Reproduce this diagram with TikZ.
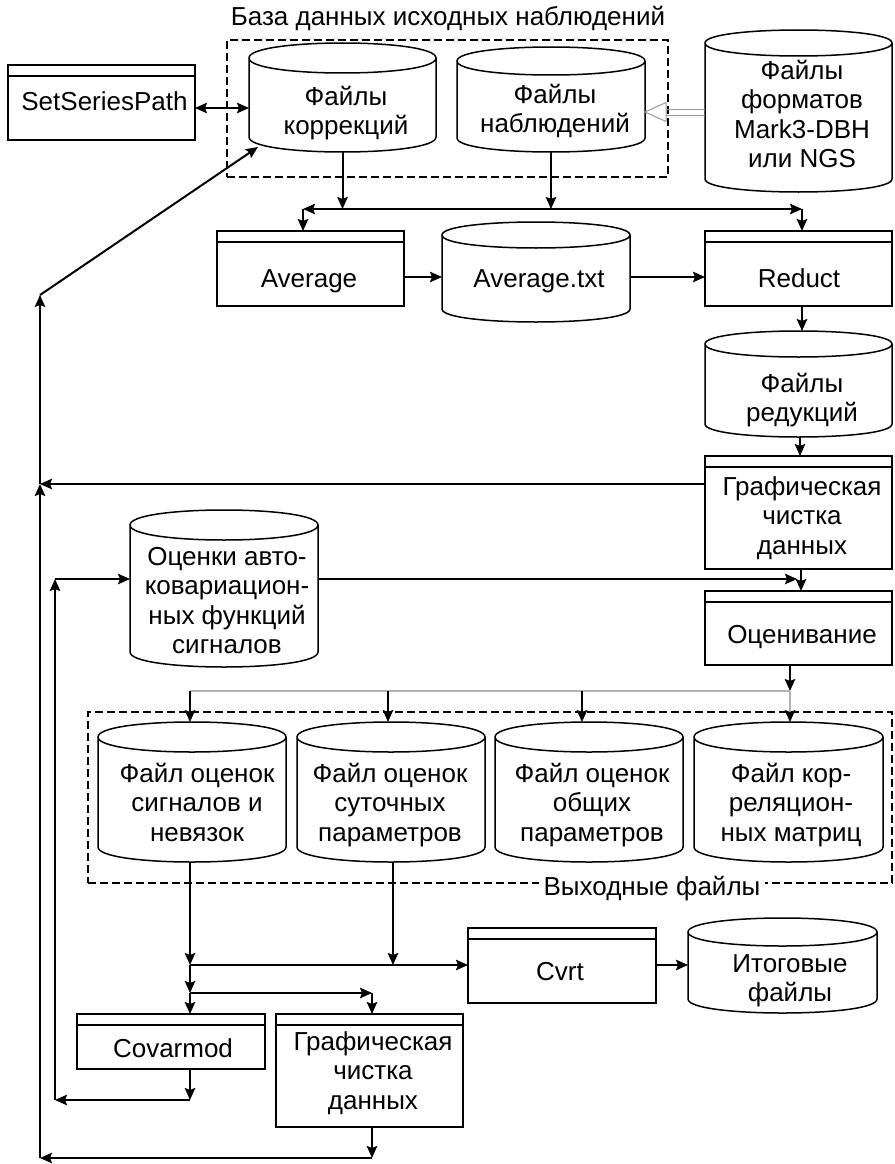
\documentclass[tikz,border=0pt]{standalone}
\usepackage{fontspec}
\setmainfont{Liberation Sans}
\usetikzlibrary{arrows.meta,calc}

% several centred lines; the baseline of the whole block is that of its first line
\newcommand\txtlines[1]{\begin{tabular}[t]{@{}c@{}}#1\end{tabular}}

\begin{document}
\begin{tikzpicture}[x=1pt,y=-1pt,
  every node/.style={font=\fontsize{26}{29.5}\selectfont},
  lbl/.style={anchor=base, inner sep=0pt, outer sep=0pt},
  proc/.style={draw, line width=1.5pt, inner sep=0pt, outer sep=0pt},
  store/.style={inner sep=0pt, outer sep=0pt},
  grp/.style={draw, line width=1.2pt, dash pattern=on 8pt off 4pt, inner sep=0pt, outer sep=0pt},
  shapeline/.style={line width=1.5pt},
  arr/.style={line width=2pt, -{Stealth[length=12pt,width=10.5pt,inset=2pt]}},
  dbl/.style={line width=2pt, {Stealth[length=12pt,width=10.5pt,inset=2pt]}-{Stealth[length=12pt,width=10.5pt,inset=2pt]}},
  thin/.style={draw=black!30, line width=1.2pt},
]
\useasboundingbox (0,0) rectangle (894,1164);

% groups
\node[grp, minimum width=441pt, minimum height=137pt] (db) at (447.5,108.5) {};
\node[grp, minimum width=804pt, minimum height=171pt] (out) at (490,797.5) {};
\node[lbl] (db-t) at (448,26) {База данных исходных наблюдений};
\node[lbl, fill=white, inner xsep=5pt, inner ysep=2pt] (out-t) at (652,895) {Выходные файлы};

% programs
\node[proc, minimum width=187pt, minimum height=75pt] (ssp) at (101.5,102.5) {};
\node[proc, minimum width=187pt, minimum height=75pt] (avg) at (310.5,268.5) {};
\node[proc, minimum width=187pt, minimum height=75pt] (red) at (798.5,268.5) {};
\node[proc, minimum width=187pt, minimum height=113pt] (gcl1) at (798.5,512.5) {};
\node[proc, minimum width=187pt, minimum height=74pt] (est) at (798.5,628) {};
\node[proc, minimum width=188pt, minimum height=55pt] (cov) at (171,1041.5) {};
\node[proc, minimum width=187pt, minimum height=113pt] (gcl2) at (369.5,1070.5) {};
\node[proc, minimum width=188pt, minimum height=75pt] (cvrt) at (562,965.5) {};
\foreach \cn in {ssp,avg,red,gcl1,est,cov,gcl2,cvrt}
  \draw[shapeline] ($(\cn.north west)+(0,11)$) -- ($(\cn.north east)+(0,11)$);

% data stores
\node[store, minimum width=187pt, minimum height=109pt] (corr) at (342.5,97.5) {};
\node[store, minimum width=188pt, minimum height=105pt] (obs) at (551,99.5) {};
\node[store, minimum width=187pt, minimum height=162pt] (mk3) at (798.5,111) {};
\node[store, minimum width=188pt, minimum height=100pt] (avt) at (536,272) {};
\node[store, minimum width=187pt, minimum height=106pt] (redf) at (798.5,384) {};
\node[store, minimum width=188pt, minimum height=157pt] (acf) at (224,588.5) {};
\node[store, minimum width=188pt, minimum height=140pt] (of1) at (192,792) {};
\node[store, minimum width=188pt, minimum height=140pt] (of2) at (391,792) {};
\node[store, minimum width=188pt, minimum height=140pt] (of3) at (589,792) {};
\node[store, minimum width=189pt, minimum height=140pt] (of4) at (788.5,792) {};
\node[store, minimum width=189pt, minimum height=95pt] (itog) at (782.5,965.5) {};
\foreach \cn/\ry in {corr/15,obs/14,mk3/13,avt/13,redf/13,acf/15,of1/15,of2/15,of3/15,of4/15,itog/14}
  \draw[shapeline, fill=white] let \p1=(\cn.north west), \p2=(\cn.south east) in
    (\x1,\y1-\ry pt) -- (\x1,\y2+\ry pt)
    .. controls (\x1,\y2-0.3333*\ry pt) and (\x2,\y2-0.3333*\ry pt) .. (\x2,\y2+\ry pt)
    -- (\x2,\y1-\ry pt)
    .. controls (\x2,\y1+0.3333*\ry pt) and (\x1,\y1+0.3333*\ry pt) .. (\x1,\y1-\ry pt)
    .. controls (\x1,\y1-2.3333*\ry pt) and (\x2,\y1-2.3333*\ry pt) .. (\x2,\y1-\ry pt);

% texts
\node[lbl] (ssp-t) at (104.5,110) {SetSeriesPath};
\node[lbl] (corr-t) at (346,105) {\txtlines{Файлы\\коррекций}};
\node[lbl] (obs-t) at (555,103) {\txtlines{Файлы\\наблюдений}};
\node[lbl] (mk3-t) at (802,79) {\txtlines{Файлы\\форматов\\Mark3-DBH\\или NGS}};
\node[lbl] (avg-t) at (309,287) {Average};
\node[lbl] (avt-t) at (539,287) {Average.txt};
\node[lbl] (red-t) at (799,287) {Reduct};
\node[lbl] (redf-t) at (802,392) {\txtlines{Файлы\\редукций}};
\node[lbl] (gcl1-t) at (802,495) {\txtlines{Графическая\\чистка\\данных}};
\node[lbl] (acf-t) at (227,565) {\txtlines{Оценки авто-\\ковариацион-\\ных функций\\сигналов}};
\node[lbl] (est-t) at (802,643) {Оценивание};
\node[lbl] (of1-t) at (197,782) {\txtlines{Файл оценок\\сигналов и\\невязок}};
\node[lbl] (of2-t) at (390,782) {\txtlines{Файл оценок\\суточных\\параметров}};
\node[lbl] (of3-t) at (592,782) {\txtlines{Файл оценок\\общих\\параметров}};
\node[lbl] (of4-t) at (791,782) {\txtlines{Файл кор-\\реляцион-\\ных матриц}};
\node[lbl] (cvrt-t) at (560,980) {Cvrt};
\node[lbl] (itog-t) at (790,972) {\txtlines{Итоговые\\файлы}};
\node[lbl] (cov-t) at (173,1057) {Covarmod};
\node[lbl] (gcl2-t) at (373,1050) {\txtlines{Графическая\\чистка\\данных}};

% junction points
\coordinate (busL) at (303,209);
\coordinate (busR) at (802,209);
\coordinate (L0) at (40,1158);
\coordinate (L1) at (40,484);
\coordinate (L2) at (40,295);
\coordinate (L3) at (372,1158);
\coordinate (K0) at (55,1100);
\coordinate (K1) at (55,579);
\coordinate (K2) at (190,1100);
\coordinate (D0) at (790,691);
\coordinate (D1) at (190,691);
\coordinate (B1) at (190,965);
\coordinate (B2) at (393,965);
\coordinate (B3) at (190,993);
\coordinate (B4) at (372,993);

% converted input formats
\draw[black!40, line width=1pt] (mk3.west |- 0,109) -- (666,109) (mk3.west |- 0,115) -- (666,115);
\draw[black!40, line width=1pt, fill=white] (obs.east |- 0,112) -- (666,102.5) -- (666,121.5) -- cycle;

% upper part
\draw[dbl] (ssp.east |- 0,108) -- (corr.west |- 0,108);
\draw[arr] (corr.south) -- (corr.south |- busL);
\draw[arr] (obs.south) -- (obs.south |- busL);
\draw[dbl] (busL) -- (busR);
\draw[arr] (busL) -- (avg.north -| busL);
\draw[arr] (busR) -- (red.north -| busR);
\draw[arr] (avg.east |- 0,277) -- (avt.west |- 0,277);
\draw[arr] (avt.east |- 0,277) -- (red.west |- 0,277);
\draw[arr] (red.south -| busR) -- (redf.north -| busR);
\draw[arr] (redf.south -| 800,0) -- (gcl1.north -| 800,0);
\draw[arr] (gcl1.west |- L1) -- (L1);
\draw[arr] (gcl1.south -| 801,0) -- (est.north -| 801,0);
\draw[arr] (acf.east |- K1) -- (797,579);

% feedback loops
\draw[arr] (L0) -- (L1);
\draw[arr] (L1) -- (L2);
\draw[arr] (L2) -- ($(corr.south west)+(9,-5)$);
\draw[arr] (gcl2.south -| L3) -- (L3);
\draw[arr] (L3) -- (L0);
\draw[arr] (cov.south -| K2) -- (K2);
\draw[arr] (K2) -- (K0);
\draw[arr] (K0) -- (K1);
\draw[arr] (K1) -- (acf.west |- K1);

% estimation results
\draw[arr] (est.south -| D0) -- (D0);
\draw[thin] (D1) -- (D0);
\draw[arr] (D1) -- (of1.north -| D1);
\draw[arr] (388,691) -- (of2.north -| 388,0);
\draw[arr] (582,691) -- (of3.north -| 582,0);
\draw[thin, -{Stealth[length=12pt,width=10.5pt,inset=2pt,black]}] (D0) -- (of4.north -| D0);

% lower part
\draw[arr] (of1.south -| B1) -- (B1);
\draw[arr] (of2.south -| B2) -- (B2);
\draw[arr] (B1) -- (cvrt.west |- B1);
\draw[arr] (cvrt.east |- B1) -- (itog.west |- B1);
\draw[arr] (B1) -- (B3);
\draw[arr] (B3) -- (cov.north -| B3);
\draw[arr] (B3) -- (B4);
\draw[arr] (B4) -- (gcl2.north -| B4);
\end{tikzpicture}
\end{document}
